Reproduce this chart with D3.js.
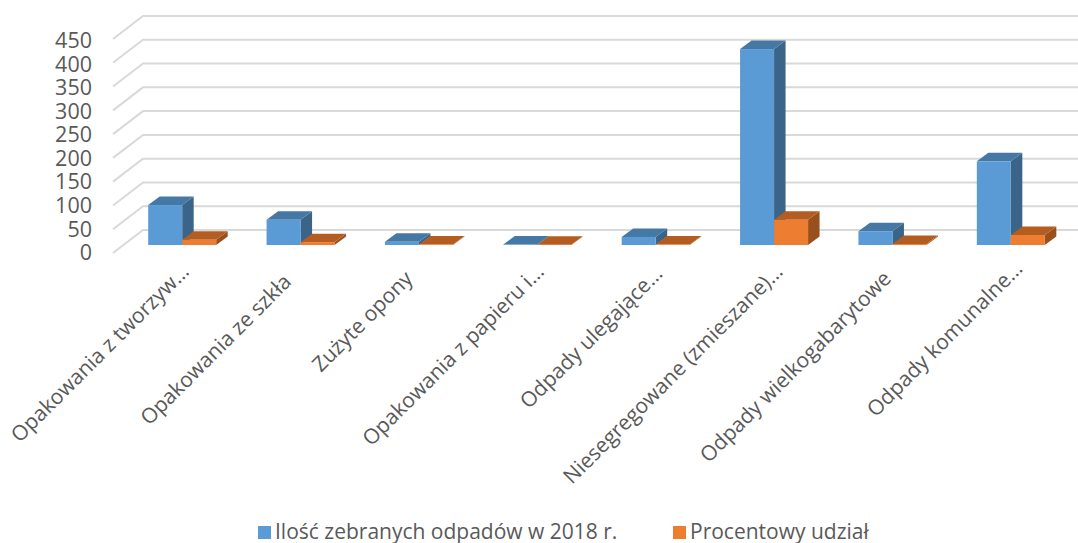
<!DOCTYPE html>
<html>
<head>
  <meta charset="UTF-8">
  <title>Odpady</title>
  <style>
    body { margin: 0; background: #fff; }
    text { font-family: "Open Sans", sans-serif; fill: #595959; }
  </style>
</head>
<body>
  <script src="https://d3js.org/d3.v7.min.js" charset="utf-8"></script>
  <script>
    const categories = ["Opakowania z tworzyw…", "Opakowania ze szkła", "Zużyte opony", "Opakowania z papieru i…",
      "Odpady ulegające…", "Niesegregowane (zmieszane)…", "Odpady wielkogabarytowe", "Odpady komunalne…"];
    const ilosc = [84, 53, 7, 1, 17, 412, 29, 176];
    const udzial = [11, 6, 1, 0.5, 1, 53, 2, 21];
    const yTicks = [0, 50, 100, 150, 200, 250, 300, 350, 400, 450];
    const legendLabels = ["Ilość zebranych odpadów w 2018 r.", "Procentowy udział"];

    const width = 1078, height = 543;
    const svg = d3.select("body").append("svg").attr("width", width).attr("height", height).style("display", "block");

    // y of the wall front edge, 0 at the bottom
    const y = d3.scaleLinear().domain([0, 450]).range([253, 39]);
    // tick labels are spaced a little tighter than the grid
    const yLabel = d3.scaleLinear().domain([0, 450]).range([252.3, 40.6]);
    const x = d3.scaleBand().domain(categories).range([123, 1070]);
    const wallDx = 30, wallDy = -23;      // depth of the floor
    const barDx = 11.5, barDy = -8.5;     // depth of a bar
    const barW = 34, barFrontDy = -8;     // bar front sits a bit behind the wall front

    const gridColor = "#d9d9d9";
    svg.selectAll("polyline.grid").data(yTicks).enter().append("polyline")
      .attr("class", "grid")
      .attr("fill", "none").attr("stroke", gridColor).attr("stroke-width", 2)
      .attr("points", d => [[113, y(d)], [113 + wallDx, y(d) + wallDy], [width, y(d) + wallDy]].join(" "));

    svg.selectAll("text.ytick").data(yTicks).enter().append("text")
      .attr("class", "ytick")
      .attr("x", 92).attr("y", d => yLabel(d)).attr("dy", "0.36em")
      .attr("text-anchor", "end").attr("font-size", 21.5)
      .text(d => d);

    function bar(g, x0, v, front, top, side) {
      const yb = y(0) + barFrontDy, yt = y(v) + barFrontDy;
      const pts = a => a.map(p => p.join(",")).join(" ");
      g.append("polygon").attr("fill", side)
        .attr("points", pts([[x0 + barW, yt], [x0 + barW + barDx, yt + barDy], [x0 + barW + barDx, yb + barDy], [x0 + barW, yb]]));
      g.append("polygon").attr("fill", top)
        .attr("points", pts([[x0, yt], [x0 + barDx, yt + barDy], [x0 + barW + barDx, yt + barDy], [x0 + barW, yt]]));
      g.append("rect").attr("fill", front)
        .attr("x", x0).attr("y", yt).attr("width", barW).attr("height", yb - yt);
    }

    const groups = svg.selectAll("g.cat").data(categories).enter().append("g").attr("class", "cat");
    groups.each(function (d, i) {
      const g = d3.select(this);
      const c = x(d) + x.bandwidth() / 2;
      bar(g, c - barW, ilosc[i], "#5b9bd5", "#4678a5", "#3a6488");
      bar(g, c, udzial[i], "#ed7d31", "#b55d20", "#99501c");
    });

    // label ends do not follow the band centre exactly in the original
    const labelDx = [8, -8, -5, 8, 8, 10, 0, 13];
    const labelDy = [20, 30, 27, 20, 22, 20, 27, 17];
    svg.selectAll("text.cat").data(categories).enter().append("text")
      .attr("class", "cat")
      .attr("text-anchor", "end").attr("font-size", 21)
      .attr("transform", (d, i) => `translate(${x(d) + x.bandwidth() / 2 + labelDx[i]},${y(0) + labelDy[i]}) rotate(-45)`)
      .text(d => d);

    // legend
    const legendColors = ["#5b9bd5", "#ed7d31"];
    const legendX = [258, 673];
    const lg = svg.selectAll("g.leg").data(legendLabels).enter().append("g").attr("class", "leg")
      .attr("transform", (d, i) => `translate(${legendX[i]},526)`);
    lg.append("rect").attr("width", 13).attr("height", 13).attr("fill", (d, i) => legendColors[i]);
    lg.append("text").attr("x", 17).attr("y", 12.5).attr("font-size", 21).text(d => d);
  </script>
</body>
</html>
